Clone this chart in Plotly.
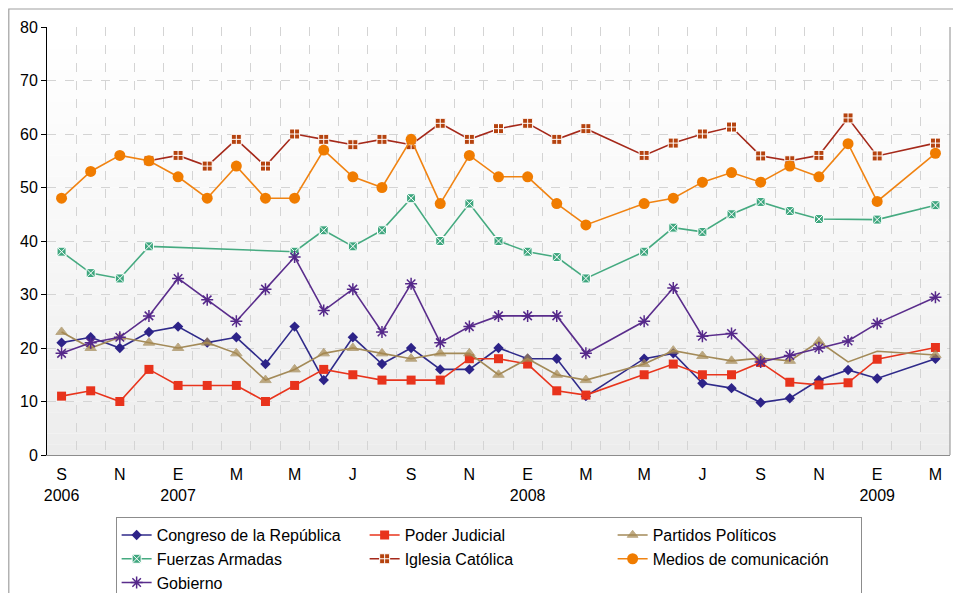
"""Confianza en instituciones, serie mensual sep-2006 a mar-2009."""

import plotly.graph_objects as go

# Meses de la serie (sep-2006 .. mar-2009); None = sin medición ese mes
MESES = [
    "2006-09", "2006-10", "2006-11", "2006-12",
    "2007-01", "2007-02", "2007-03", "2007-04", "2007-05", "2007-06",
    "2007-07", "2007-08", "2007-09", "2007-10", "2007-11", "2007-12",
    "2008-01", "2008-02", "2008-03", "2008-04", "2008-05", "2008-06",
    "2008-07", "2008-08", "2008-09", "2008-10", "2008-11", "2008-12",
    "2009-01", "2009-02", "2009-03",
]

congreso = [21, 22, 20, 23, 24, 21, 22, 17, 24, 14, 22, 17, 20, 16, 16, 20,
            18, 18, 11, None, 18, 19, 13.4, 12.5, 9.8, 10.6, 14, 15.9, 14.3, None, 18]
poder_judicial = [11, 12, 10, 16, 13, 13, 13, 10, 13, 16, 15, 14, 14, 14, 18, 18,
                  17, 12, 11.2, None, 15, 17, 15, 15, 17.3, 13.6, 13.1, 13.5, 17.9, None, 20.1]
partidos = [23, 20, 22, 21, 20, 21, 19, 14, 16, 19, 20, 19, 18, 19, 19, 15,
            18, 15, 14, None, 17, 19.5, 18.5, 17.6, 18.1, 17.6, 21.2, 17.4, 19.4, None, 18.7]
fuerzas = [38, 34, 33, 39, None, None, None, None, 38, 42, 39, 42, 48, 40, 47, 40,
           38, 37, 33, None, 38, 42.5, 41.7, 45, 47.3, 45.6, 44.1, None, 44, None, 46.7]
iglesia = [None, None, None, 55, 56, 54, 59, 54, 60, 59, 58, 59, 58, 62, 59, 61,
           62, 59, 61, None, 56, 58.3, 60, 61.3, 55.9, 55, 56, 63, 55.9, None, 58.3]
medios = [48, 53, 56, 55, 52, 48, 54, 48, 48, 57, 52, 50, 59, 47, 56, 52,
          52, 47, 43, None, 47, 48, 51, 52.8, 51, 54, 52, 58.2, 47.4, None, 56.4]
gobierno = [19, 21, 22, 26, 33, 29, 25, 31, 37, 27, 31, 23, 32, 21, 24, 26,
            26, 26, 19, None, 25, 31.2, 22.2, 22.7, 17.4, 18.6, 20, 21.3, 24.6, None, 29.5]

# Meses en que "Partidos Políticos" no lleva marcador
PARTIDOS_SIN_MARCA = ["2008-12", "2009-01"]

TICK_TEXT = ["S<br>2006", "N", "E<br>2007", "M", "M", "J", "S", "N",
             "E<br>2008", "M", "M", "J", "S", "N", "E<br>2009", "M"]

FONT = "Liberation Sans, Arial, sans-serif"
GRID = "#d4d4d4"

x = list(range(len(MESES)))

series = [
    ("Congreso de la República", congreso,
     dict(symbol="diamond", size=8, color="#2d2388"), "#2f2a8a"),
    ("Poder Judicial", poder_judicial,
     dict(symbol="square", size=9, color="#e8331c"), "#e8341c"),
    ("Partidos Políticos", partidos,
     dict(symbol="triangle-up", size=10, color="#a6884f"), "#a38a58"),
    ("Fuerzas Armadas", fuerzas,
     dict(symbol="square-x", size=9, color="#3fa77f",
          line=dict(color="white", width=1)), "#45aa80"),
    ("Iglesia Católica", iglesia,
     dict(symbol="square-cross", size=10, color="#b5430f",
          line=dict(color="white", width=1)), "#a5291a"),
    ("Medios de comunicación", medios,
     dict(symbol="circle", size=11, color="#f07c00"), "#f08312"),
    ("Gobierno", gobierno,
     dict(symbol="asterisk-open", size=10, color="#55288a",
          line=dict(color="#55288a", width=1.5)), "#5a2d8c"),
]

fig = go.Figure()

# fondo degradado del área de trazado (blanco arriba, gris abajo)
n_bandas = 40
for k in range(n_bandas):
    t = k / (n_bandas - 1)
    g = round(236 + (255 - 236) * t ** 0.8)
    fig.add_shape(
        type="rect", xref="x domain", yref="y domain",
        x0=0, x1=1, y0=k / n_bandas, y1=(k + 1) / n_bandas,
        fillcolor=f"rgb({g},{g},{g})", line=dict(width=0), layer="below",
    )

for name, vals, marker, line_color in series:
    if name == "Partidos Políticos":
        marker = dict(marker, size=[0 if m in PARTIDOS_SIN_MARCA else 10 for m in MESES])
    fig.add_trace(
        go.Scatter(
            x=x, y=vals, name=name, mode="lines+markers",
            connectgaps=True,
            line=dict(color=line_color, width=1.6),
            marker=marker,
        )
    )

# marco exterior del gráfico y borde derecho del área
fig.add_shape(type="rect", xref="paper", yref="paper",
              x0=-0.0423, x1=1.05, y0=-0.5, y1=1.042,
              line=dict(color="#a0a0a0", width=1.2))
fig.add_shape(type="line", xref="x domain", yref="y domain",
              x0=1, x1=1, y0=0, y1=1, line=dict(color="#8c8c8c", width=1))

# la página añade 8 px de margen (body), se compensa aquí
fig.update_layout(
    width=961, height=593,
    margin=dict(l=39, r=19, t=19, b=146, autoexpand=False),
    paper_bgcolor="white",
    plot_bgcolor="white",
    font=dict(family=FONT, size=16, color="black"),
    showlegend=True,
    legend=dict(
        orientation="h",
        x=0.076, y=-0.145, xanchor="left", yanchor="top",
        entrywidth=203,
        font=dict(size=16, color="black"),
        bgcolor="white", bordercolor="#8c8c8c", borderwidth=1,
    ),
)

fig.update_xaxes(
    range=[-0.5, len(MESES) - 0.5],
    tickmode="array",
    tickvals=x[::2],
    ticktext=TICK_TEXT,
    showgrid=False,
    zeroline=False,
    showline=True, linecolor="#8c8c8c", linewidth=1,
    ticks="",
    ticklabelstandoff=5,
    tickfont=dict(size=16, color="black"),
    minor=dict(tickmode="linear", tick0=0.5, dtick=1, showgrid=True,
               gridcolor=GRID, griddash="dash", gridwidth=1, ticks=""),
)
fig.update_yaxes(
    range=[0, 80],
    dtick=10,
    showgrid=True, gridcolor=GRID, griddash="dash", gridwidth=1,
    zeroline=False,
    showline=True, linecolor="black", linewidth=1,
    ticks="outside", ticklen=5, tickcolor="black",
    tickfont=dict(size=16, color="black"),
)

fig.write_html("out.html")
